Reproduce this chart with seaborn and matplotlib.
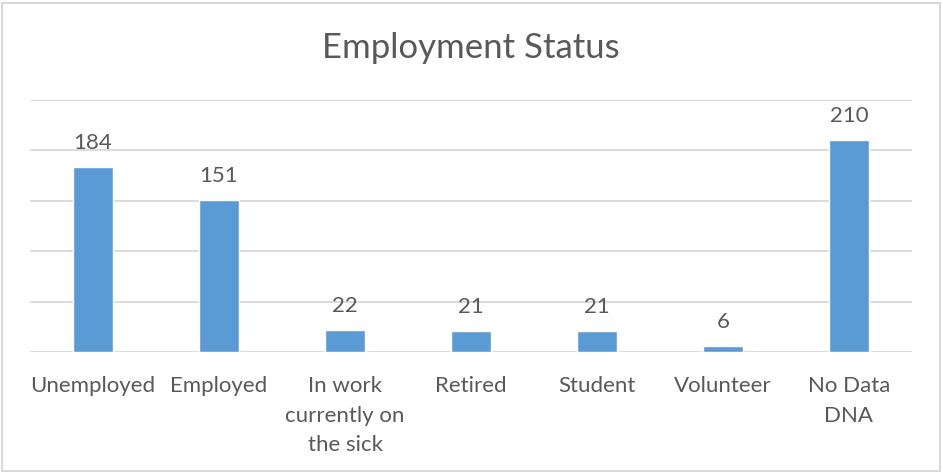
import matplotlib
matplotlib.use("Agg")
import matplotlib.pyplot as plt
import seaborn as sns
from matplotlib.patches import Rectangle

# Chart data
categories = ["Unemployed", "Employed", "In work\ncurrently on\nthe sick", "Retired",
              "Student", "Volunteer", "No Data\nDNA"]
counts = [184, 151, 22, 21, 21, 6, 210]

bar_color = "#5B9BD5"
text_color = "#595959"
grid_color = "#D9D9D9"

sns.set_style("white")
plt.rcParams["font.family"] = ["Lato", "DejaVu Sans"]

fig = plt.figure(figsize=(9.42, 4.72), dpi=100)
ax = fig.add_axes([30 / 942, 120 / 472, 882 / 942, 252 / 472])

sns.barplot(x=categories, y=counts, color=bar_color, width=0.317, saturation=1, ax=ax)

# Excel-like look: no y labels, light grid, no spines
ax.set_ylim(0, 250)
ax.set_xlim(-0.5, 6.5)
ax.set_yticks(range(0, 251, 50))
ax.set_yticklabels([])
ax.yaxis.grid(True, color=grid_color, linewidth=1.3)
ax.set_axisbelow(True)
for s in ax.spines.values():
    s.set_visible(False)
ax.tick_params(axis="both", length=0)
ax.tick_params(axis="x", pad=17, labelsize=16, labelcolor=text_color)
for lbl in ax.get_xticklabels():
    lbl.set_linespacing(1.62)
ax.set_xlabel("")
ax.set_ylabel("")

# Value labels above bars
for i, v in enumerate(counts):
    ax.annotate(str(v), (i, v), xytext=(0, 10), textcoords="offset points",
                ha="center", va="bottom", fontsize=16, color=text_color)

fig.text(0.5, 1 - 48 / 472, "Employment Status", ha="center", va="center",
         fontsize=25, color=text_color)

# Chart border
fig.patches.append(Rectangle((1.5 / 942, 1.5 / 472), 938 / 942, 468 / 472,
                             transform=fig.transFigure, fill=False,
                             edgecolor=grid_color, linewidth=1.5))

fig.savefig("out.png", dpi=100, facecolor="white")
